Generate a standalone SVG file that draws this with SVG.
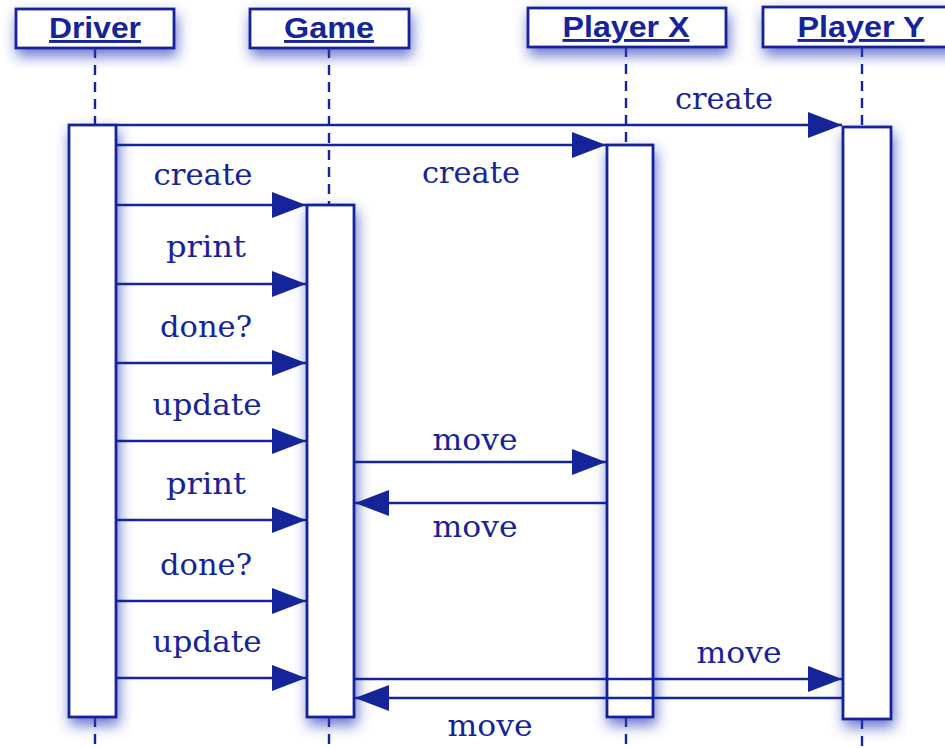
<svg xmlns="http://www.w3.org/2000/svg" width="945" height="748" viewBox="0 0 945 748">
<defs>
<filter id="glow" x="-50%" y="-50%" width="200%" height="200%">
<feGaussianBlur in="SourceAlpha" stdDeviation="7"/>
<feOffset dx="2" dy="7" result="b"/>
<feFlood flood-color="#2a3cb8" flood-opacity="0.7"/>
<feComposite in2="b" operator="in"/>
<feMerge><feMergeNode/><feMergeNode in="SourceGraphic"/></feMerge>
</filter>
<marker id="ah" markerUnits="userSpaceOnUse" markerWidth="36" markerHeight="28" refX="34" refY="13" orient="auto">
<path d="M0,0 L34,13 L0,26 Z" fill="#16249a"/>
</marker>
<style>
.box{fill:#fff;stroke:#16249a;stroke-width:2.8}
.bar{fill:#fff;stroke:#16249a;stroke-width:2.8}
.life{stroke:#16249a;stroke-width:2.4;stroke-dasharray:10 7;fill:none}
.msg{stroke:#16249a;stroke-width:2.3;fill:none;marker-end:url(#ah)}
.hd{font-family:"Liberation Sans",Arial,sans-serif;font-weight:bold;font-size:29px;fill:#16249a;text-anchor:middle;text-decoration:underline}
.lbl{font-family:"DejaVu Serif","Liberation Serif",serif;font-size:30px;fill:#16249a;text-anchor:middle}
</style>
</defs>
<rect width="945" height="748" fill="#fff"/>
<g id="lifelines">
<line class="life" x1="95" y1="48" x2="95" y2="125"/>
<line class="life" x1="95" y1="717" x2="95" y2="748"/>
<line class="life" x1="329" y1="48" x2="329" y2="205"/>
<line class="life" x1="329" y1="717" x2="329" y2="748"/>
<line class="life" x1="626" y1="47" x2="626" y2="145"/>
<line class="life" x1="626" y1="717" x2="626" y2="748"/>
<line class="life" x1="862" y1="47" x2="862" y2="127"/>
<line class="life" x1="862" y1="719" x2="862" y2="748"/>
</g>
<g id="driver">
<rect class="box" x="16" y="9" width="158" height="39" filter="url(#glow)"/>
<text class="hd" x="95" y="38" textLength="92" lengthAdjust="spacingAndGlyphs">Driver</text>
<rect class="bar" x="69" y="125" width="47" height="592" filter="url(#glow)"/>
</g>
<g id="game">
<rect class="box" x="250" y="9" width="159" height="39" filter="url(#glow)"/>
<text class="hd" x="329" y="38" textLength="90" lengthAdjust="spacingAndGlyphs">Game</text>
<rect class="bar" x="307" y="205" width="47" height="512" filter="url(#glow)"/>
</g>
<g id="playerX">
<rect class="box" x="528" y="8" width="198" height="39" filter="url(#glow)"/>
<text class="hd" x="626" y="37" textLength="127" lengthAdjust="spacingAndGlyphs">Player X</text>
<rect class="bar" x="607" y="145" width="46" height="572" filter="url(#glow)"/>
</g>
<g id="playerY">
<rect class="box" x="763" y="7" width="200" height="40" filter="url(#glow)"/>
<text class="hd" x="861" y="37" textLength="127" lengthAdjust="spacingAndGlyphs">Player Y</text>
<rect class="bar" x="843" y="127" width="48" height="592" filter="url(#glow)"/>
</g>
<g id="connectors">
<line class="msg" x1="116" y1="125" x2="842" y2="125"/>
<line class="msg" x1="116" y1="145" x2="606" y2="145"/>
<line class="msg" x1="116" y1="205" x2="306" y2="205"/>
<line class="msg" x1="116" y1="284" x2="306" y2="284"/>
<line class="msg" x1="116" y1="363" x2="306" y2="363"/>
<line class="msg" x1="116" y1="441" x2="306" y2="441"/>
<line class="msg" x1="354" y1="462" x2="606" y2="462"/>
<line class="msg" x1="607" y1="503" x2="355" y2="503"/>
<line class="msg" x1="116" y1="520" x2="306" y2="520"/>
<line class="msg" x1="116" y1="601" x2="306" y2="601"/>
<line class="msg" x1="116" y1="678" x2="306" y2="678"/>
<line class="msg" x1="354" y1="679" x2="842" y2="679"/>
<line class="msg" x1="843" y1="698" x2="355" y2="698"/>
</g>
<g id="labels">
<text class="lbl" x="724" y="109" textLength="98" lengthAdjust="spacingAndGlyphs">create</text>
<text class="lbl" x="471" y="183" textLength="98" lengthAdjust="spacingAndGlyphs">create</text>
<text class="lbl" x="203" y="185" textLength="99" lengthAdjust="spacingAndGlyphs">create</text>
<text class="lbl" x="206" y="257" textLength="80" lengthAdjust="spacingAndGlyphs">print</text>
<text class="lbl" x="206" y="337" textLength="92" lengthAdjust="spacingAndGlyphs">done?</text>
<text class="lbl" x="207" y="415" textLength="109" lengthAdjust="spacingAndGlyphs">update</text>
<text class="lbl" x="475" y="450" textLength="85" lengthAdjust="spacingAndGlyphs">move</text>
<text class="lbl" x="475" y="537" textLength="85" lengthAdjust="spacingAndGlyphs">move</text>
<text class="lbl" x="206" y="494" textLength="80" lengthAdjust="spacingAndGlyphs">print</text>
<text class="lbl" x="206" y="575" textLength="92" lengthAdjust="spacingAndGlyphs">done?</text>
<text class="lbl" x="207" y="652" textLength="109" lengthAdjust="spacingAndGlyphs">update</text>
<text class="lbl" x="739" y="663" textLength="85" lengthAdjust="spacingAndGlyphs">move</text>
<text class="lbl" x="490" y="736" textLength="85" lengthAdjust="spacingAndGlyphs">move</text>
</g>
</svg>
